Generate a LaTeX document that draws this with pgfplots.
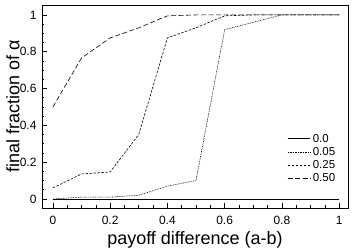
\documentclass[border=0pt]{standalone}
\usepackage{pgfplots}
\pgfplotsset{compat=1.18}
\usepackage{fontspec}
\setmainfont{Liberation Sans}
\begin{document}
\begin{tikzpicture}
\begin{axis}[
  scale only axis,
  width=306bp, height=203bp,
  xmin=-0.038, xmax=1.031,
  ymin=-0.049, ymax=1.054,
  xtick={0,0.2,0.4,0.6,0.8,1},
  ytick={0,0.2,0.4,0.6,0.8,1},
  xticklabels={0,0.2,0.4,0.6,0.8,1},
  yticklabels={0,0.2,0.4,0.6,0.8,1},
  minor tick num=3,
  tick align=inside,
  xtick pos=left, ytick pos=left,
  major tick length=5bp, minor tick length=2.5bp,
  tick style={black, line width=0.6pt},
  axis line style={line width=0.8pt},
  ticklabel style={font=\fontsize{12bp}{14bp}\selectfont},
  /pgf/number format/assume math mode=true,
  xticklabel style={yshift=-5bp},
  yticklabel style={xshift=-2bp},
  xlabel={payoff difference (a-b)},
  ylabel={final fraction of α},
  label style={font=\fontsize{18bp}{20bp}\selectfont},
  xlabel style={at={(axis description cs:0.5,-0.155)}, anchor=center},
  ylabel style={at={(axis description cs:-0.095,0.5)}, anchor=center},
  legend style={draw=none, fill=none, at={(0.975,0.385)}, anchor=north east,
    font=\fontsize{11.5bp}{13bp}\selectfont, row sep=-0.5bp},
  legend cell align=left,
  legend image code/.code={\draw[#1] (0cm,0cm) -- (0.8cm,0cm);},
]
\addplot[black, line width=0.6pt] coordinates {(0,0)(0.1,0)(0.2,0)(0.3,0)(0.4,0)(0.5,0)(0.6,0)(0.7,0)(0.8,0)(0.9,0)(1,0)};
\addlegendentry{0.0}
\addplot[black, line width=0.6pt, dash pattern=on 0.8pt off 0.9pt] coordinates {(0,0)(0.1,0.01)(0.2,0.01)(0.3,0.02)(0.4,0.07)(0.5,0.10)(0.6,0.92)(0.7,0.96)(0.8,1)(0.9,1)(1,1)};
\addlegendentry{0.05}
\addplot[black, line width=0.6pt, dash pattern=on 2.5pt off 1.5pt] coordinates {(0,0.06)(0.1,0.136)(0.2,0.147)(0.3,0.35)(0.4,0.875)(0.5,0.93)(0.6,0.995)(0.7,1)(0.8,1)(0.9,1)(1,1)};
\addlegendentry{0.25}
\addplot[black, line width=0.6pt, dash pattern=on 5pt off 2.5pt] coordinates {(0,0.5)(0.1,0.766)(0.2,0.875)(0.3,0.93)(0.4,0.995)(0.5,1)(0.6,1)(0.7,1)(0.8,1)(0.9,1)(1,1)};
\addlegendentry{0.50}
\end{axis}
\pgfresetboundingbox
\path ([shift={(-42bp,-42bp)}]current axis.south west) rectangle ([shift={(6bp,5bp)}]current axis.north east);
\end{tikzpicture}
\end{document}
